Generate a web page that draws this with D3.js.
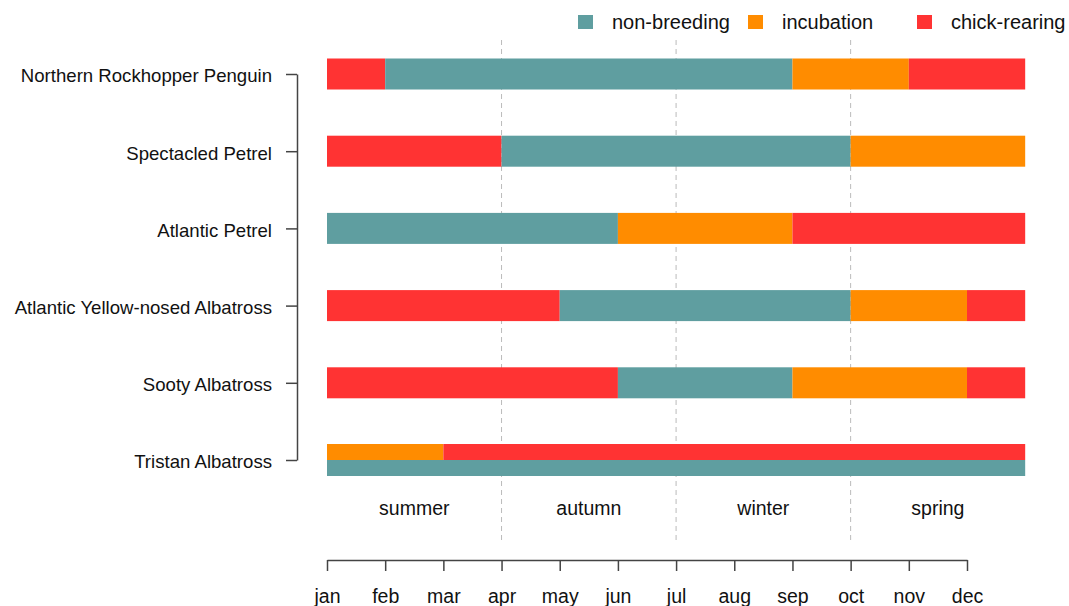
<!DOCTYPE html>
<html><head><meta charset="utf-8">
<script src="https://cdn.jsdelivr.net/npm/d3@7"></script>
<style>body{margin:0;background:#fff;} text{font-family:"Liberation Sans",Arial,sans-serif;}</style>
</head><body>
<svg id="chart" width="1069" height="606"></svg>
<script>
const months = ["jan","feb","mar","apr","may","jun","jul","aug","sep","oct","nov","dec"];
const species = ["Northern Rockhopper Penguin","Spectacled Petrel","Atlantic Petrel","Atlantic Yellow-nosed Albatross","Sooty Albatross","Tristan Albatross"];
const phases = ["non-breeding","incubation","chick-rearing"];
const phaseColors = ["#5F9EA0","#FF8C00","#FF3333"];
const seasons = ["summer","autumn","winter","spring"];
// segments: species index, phase, start month index, end month index, lane
const segSpecies = [0,0,0,0, 1,1,1, 2,2,2, 3,3,3,3, 4,4,4,4, 5,5,5];
const segPhase   = ["chick-rearing","non-breeding","incubation","chick-rearing",
                    "chick-rearing","non-breeding","incubation",
                    "non-breeding","incubation","chick-rearing",
                    "chick-rearing","non-breeding","incubation","chick-rearing",
                    "chick-rearing","non-breeding","incubation","chick-rearing",
                    "incubation","chick-rearing","non-breeding"];
const segStart   = [0,1,8,10, 0,3,9, 0,5,8, 0,4,9,11, 0,5,8,11, 0,2,0];
const segEnd     = [1,8,10,12, 3,9,12, 5,8,12, 4,9,11,12, 5,8,11,12, 2,12,12];
const segLane    = ["full","full","full","full","full","full","full","full","full","full",
                    "full","full","full","full","full","full","full","full","top","top","bottom"];

const svg = d3.select("#chart");
const x = d3.scaleLinear().domain([0,11]).range([327,967]);
const y = d3.scalePoint().domain(species).range([74,460]);
const color = d3.scaleOrdinal().domain(phases).range(phaseColors);
const barH = 31;

// dashed season separators
[3,6,9].forEach(m=>{
  svg.append("line").attr("x1",x(m)).attr("x2",x(m)).attr("y1",40).attr("y2",540)
    .attr("stroke","#bbbbbb").attr("stroke-dasharray","5,4").attr("stroke-width",1);
});

// bars
segPhase.forEach((p,i)=>{
  const cy = y(species[segSpecies[i]]);
  let y0, h;
  if (segLane[i]==="full"){ y0 = cy - barH/2; h = barH; }
  else if (segLane[i]==="top"){ y0 = cy - 16; h = 16; }
  else { y0 = cy; h = 16; }
  svg.append("rect").attr("x",x(segStart[i])).attr("y",y0)
    .attr("width",x(segEnd[i])-x(segStart[i])).attr("height",h)
    .attr("fill",color(p));
});

// y axis
const yAxis = svg.append("g").attr("transform","translate(297,0)")
  .call(d3.axisLeft(y).tickSize(11).tickPadding(14).tickSizeOuter(0));
yAxis.select(".domain").attr("stroke","#444").attr("stroke-width",1.5);
yAxis.selectAll(".tick line").attr("stroke","#444").attr("stroke-width",1.5);
yAxis.selectAll("text").attr("font-size",18.6).attr("fill","#111").attr("dy","0.42em")
  .attr("font-family","Liberation Sans, Arial, sans-serif");

// x axis
const xAxis = svg.append("g").attr("transform","translate(0,560)")
  .call(d3.axisBottom(x).tickValues(d3.range(12)).tickFormat(i=>months[i]).tickSize(11).tickPadding(18).tickSizeOuter(0));
xAxis.select(".domain").attr("stroke","#444").attr("stroke-width",1.5);
xAxis.selectAll(".tick line").attr("stroke","#444").attr("stroke-width",1.5);
xAxis.selectAll("text").attr("font-size",19.5).attr("fill","#111").attr("font-family","Liberation Sans, Arial, sans-serif");

// seasons
seasons.forEach((s,i)=>{
  svg.append("text").attr("x",x(i*3+1.5)).attr("y",515).attr("text-anchor","middle")
    .attr("font-size",19.5).attr("fill","#111").text(s);
});

// legend
const legX = [578, 748, 917];
phases.forEach((p,i)=>{
  svg.append("rect").attr("x",legX[i]).attr("y",15).attr("width",15).attr("height",14).attr("fill",phaseColors[i]);
  svg.append("text").attr("x",legX[i]+34).attr("y",29).attr("font-size",20).attr("fill","#111").text(p);
});
</script>
</body></html>
